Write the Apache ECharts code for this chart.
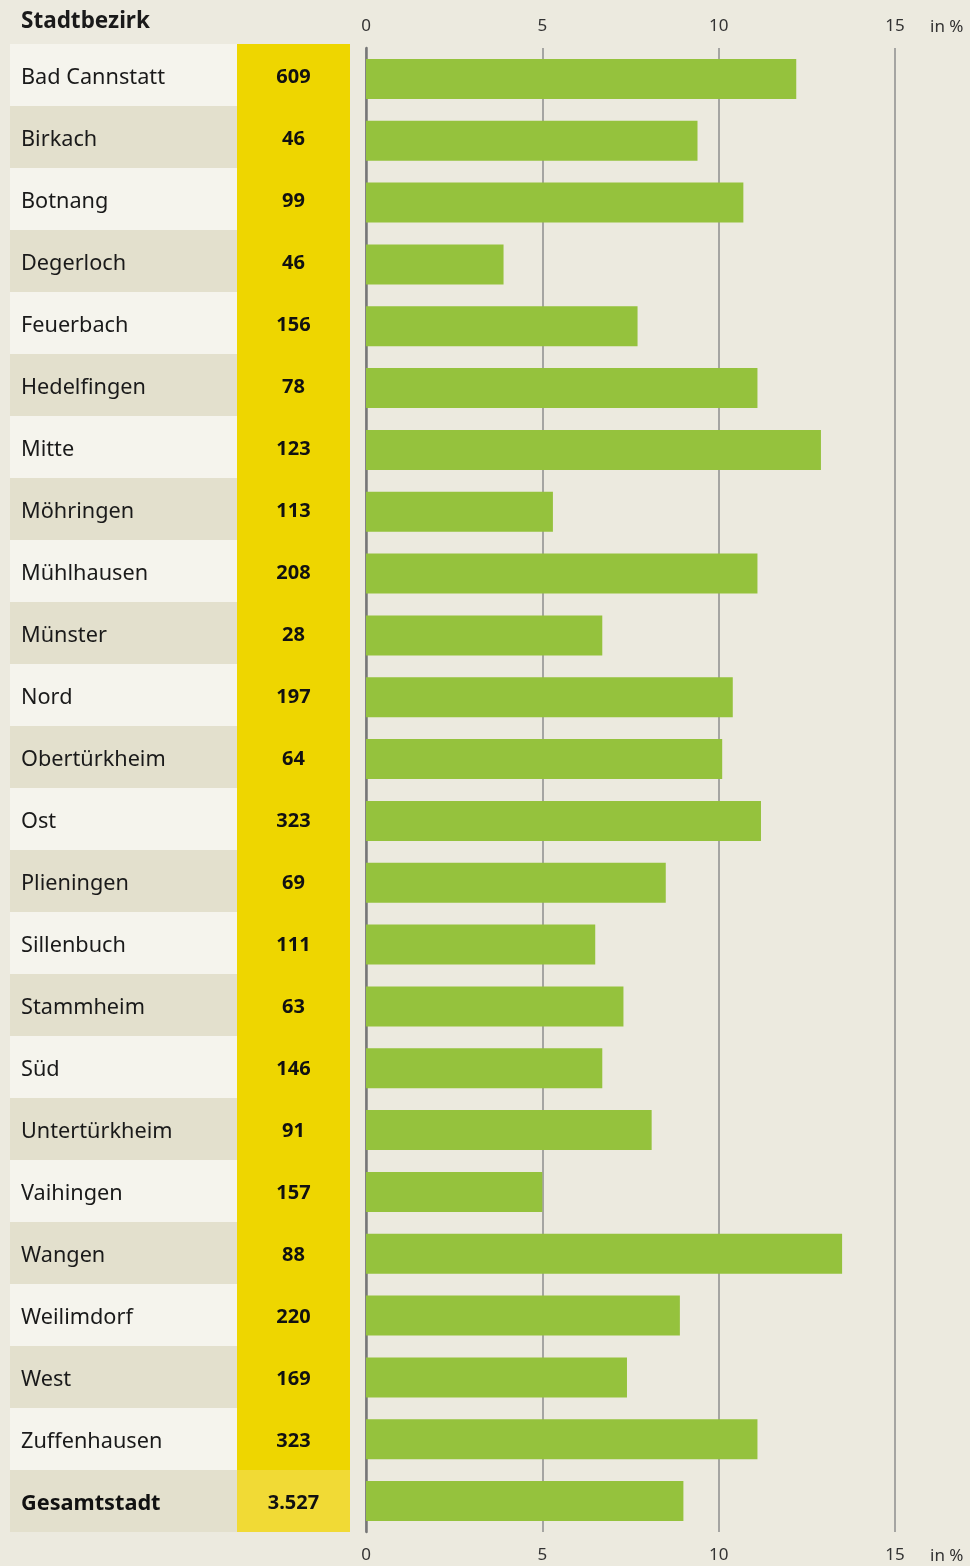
<!DOCTYPE html>
<html style="height: 100%">

<head>
    <meta charset="utf-8">
    <title>Stadtbezirke</title>
</head>

<body style="height: 100%; margin: 0; background: #ECEADF;">
    <div id="container" style="width: 970px; height: 1566px"></div>
    <script src="https://cdn.jsdelivr.net/npm/echarts@6/dist/echarts.min.js"></script>
    <script type="text/javascript">
        // Stadtbezirke, Anzahl und Anteil in %
        var districts = ['Bad Cannstatt', 'Birkach', 'Botnang', 'Degerloch', 'Feuerbach', 'Hedelfingen',
            'Mitte', 'Möhringen', 'Mühlhausen', 'Münster', 'Nord', 'Obertürkheim', 'Ost', 'Plieningen',
            'Sillenbuch', 'Stammheim', 'Süd', 'Untertürkheim', 'Vaihingen', 'Wangen', 'Weilimdorf',
            'West', 'Zuffenhausen', 'Gesamtstadt'];
        var counts = [609, 46, 99, 46, 156, 78, 123, 113, 208, 28, 197, 64, 323, 69, 111, 63, 146, 91,
            157, 88, 220, 169, 323, 3527];
        var shares = [12.2, 9.4, 10.7, 3.9, 7.7, 11.1, 12.9, 5.3, 11.1, 6.7, 10.4, 10.1, 11.2, 8.5,
            6.5, 7.3, 6.7, 8.1, 5.0, 13.5, 8.9, 7.4, 11.1, 9.0];
        var ticks = [0, 5, 10, 15];

        var font = '"Noto Sans", "Open Sans", sans-serif';
        var last = districts.length - 1;

        function fmt(n) {
            return String(n).replace(/\B(?=(\d{3})+(?!\d))/g, '.');
        }

        var dom = document.getElementById("container");
        var myChart = echarts.init(dom);
        var option = {
            animation: false,
            backgroundColor: '#ECEADF',
            title: {
                text: 'Stadtbezirk',
                left: 21,
                top: 10,
                padding: 0,
                textStyle: { fontFamily: font, fontSize: 22.5, fontWeight: 'bold', color: '#1a1a1a' }
            },
            graphic: [
                { type: 'text', left: 930, top: 19, style: { text: 'in %', font: '17px ' + font, fill: '#333' } },
                { type: 'text', left: 930, top: 1548, style: { text: 'in %', font: '17px ' + font, fill: '#333' } }
            ],
            grid: [
                { left: 10, top: 44, width: 227, height: 1488 },
                { left: 237, top: 44, width: 113, height: 1488 },
                { left: 366, top: 48, width: 529, height: 1484 }
            ],
            xAxis: [
                { gridIndex: 0, type: 'value', min: 0, max: 1, show: false },
                { gridIndex: 1, type: 'value', min: 0, max: 1, show: false },
                {
                    gridIndex: 2, type: 'value', position: 'top', min: ticks[0], max: ticks[ticks.length - 1], interval: 5,
                    axisLine: { show: false }, axisTick: { show: false },
                    axisLabel: { margin: 13, fontFamily: font, fontSize: 17, color: '#333' },
                    splitLine: { show: true, lineStyle: { color: '#8e8e8e', width: 1.5 } }
                },
                {
                    gridIndex: 2, type: 'value', position: 'bottom', min: ticks[0], max: ticks[ticks.length - 1], interval: 5,
                    axisLine: { show: false }, axisTick: { show: false },
                    axisLabel: { margin: 15, fontFamily: font, fontSize: 17, color: '#333' },
                    splitLine: { show: false }
                }
            ],
            yAxis: [
                {
                    gridIndex: 0, type: 'category', data: districts, inverse: true,
                    axisLine: { show: false }, axisTick: { show: false },
                    splitArea: { show: true, areaStyle: { color: ['#F5F4ED', '#E3E0CD'] } },
                    axisLabel: {
                        inside: true, align: 'left', margin: 11, fontFamily: font, fontSize: 21.7, color: '#1a1a1a',
                        padding: [5, 0, 0, 0],
                        formatter: function (v) {
                            return v === districts[last] ? '{b|' + v + '}' : v;
                        },
                        rich: { b: { fontFamily: font, fontSize: 21.7, fontWeight: 'bold', color: '#111' } }
                    }
                },
                {
                    gridIndex: 1, type: 'category', data: districts, inverse: true,
                    axisLine: { show: false }, axisTick: { show: false },
                    splitArea: {
                        show: true,
                        areaStyle: {
                            color: districts.map(function (d, i) { return i === last ? '#F1DA35' : '#EED600'; })
                        }
                    },
                    axisLabel: {
                        inside: true, align: 'center', margin: 56.5,
                        formatter: function (v, i) { return '{n|' + fmt(counts[i]) + '}'; },
                        rich: {
                            n: { fontFamily: font, fontSize: 20, fontWeight: 'bold', color: '#111', padding: [5, 0, 0, 0] }
                        }
                    }
                },
                {
                    gridIndex: 2, type: 'category', data: districts, inverse: true,
                    axisLine: { show: true, lineStyle: { color: '#777', width: 2.5 } },
                    axisTick: { show: false }, axisLabel: { show: false }
                }
            ],
            series: [{
                type: 'bar',
                xAxisIndex: 2,
                yAxisIndex: 2,
                barWidth: 40,
                itemStyle: { color: '#95C23D' },
                data: shares,
                z: 1
            }]
        };
        myChart.setOption(option);
    </script>
</body>

</html>
